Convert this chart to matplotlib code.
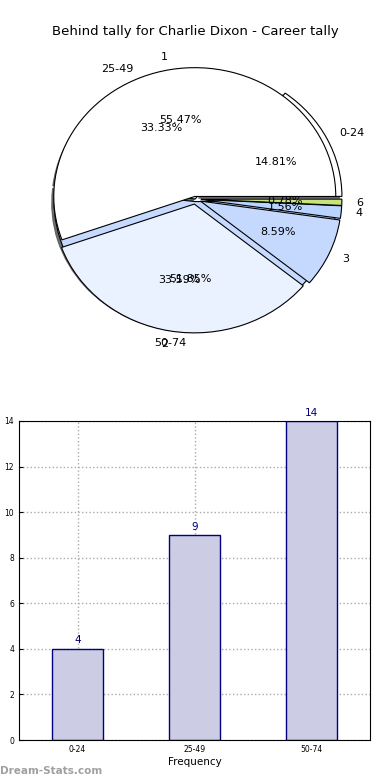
import matplotlib
matplotlib.use('Agg')
import matplotlib.pyplot as plt

# score bands (career tally)
bands = ['0-24', '25-49', '50-74']
band_counts = [4, 9, 14]
band_colors = ['#ffffff', '#dfe9ff', '#c6d9ff']

# behinds per game
behinds = ['1', '2', '3', '4', '6']
behind_counts = [71, 43, 11, 2, 1]
behind_colors = ['#ffffff', '#eaf1ff', '#c5d9ff', '#b9d5ff', '#c8e27c']

fig = plt.figure(figsize=(3.9, 7.8), dpi=100)
fig.text(0.5, 1 - 31 / 780, 'Behind tally for Charlie Dixon - Career tally',
         ha='center', va='center', fontsize=9.5)

# pie axes (slightly squashed like the original)
ax1 = fig.add_axes([19 / 390, (780 - 360) / 780, 352.5 / 390, 322 / 780])
ax1.pie(band_counts, labels=bands, colors=band_colors, autopct='%1.2f%%',
        explode=(0.045, 0, 0.02), startangle=0,
        shadow={'ox': -0.012, 'oy': -0.01, 'facecolor': '#555555',
                'edgecolor': '#555555', 'alpha': 0.85},
        wedgeprops={'edgecolor': 'black', 'linewidth': 0.8},
        textprops={'fontsize': 8})
ax1.pie(behind_counts, labels=behinds, colors=behind_colors, autopct='%1.2f%%',
        explode=(0.02, 0.04, 0.04, 0.04, 0.04), startangle=0,
        wedgeprops={'edgecolor': 'black', 'linewidth': 0.8},
        textprops={'fontsize': 8})
ax1.set_aspect('auto')
ax1.set_xlim(-1.25, 1.25)
ax1.set_ylim(-1.25, 1.25)

# bar chart
ax2 = fig.add_axes([19 / 390, 40 / 780, 351 / 390, 319 / 780])
x = range(len(bands))
bars = ax2.bar(x, band_counts, width=0.44, color='#ccccE4', edgecolor='#000080',
               linewidth=1, zorder=2)
for b, v in zip(bars, band_counts):
    ax2.text(b.get_x() + b.get_width() / 2, v + 0.15, str(v), ha='center',
             va='bottom', color='#000080', fontsize=7.5)
ax2.set_xlim(-0.5, 2.5)
ax2.set_ylim(0, 14)
ax2.set_yticks(range(0, 15, 2))
ax2.set_xticks(list(x))
ax2.set_xticklabels(bands)
ax2.tick_params(labelsize=5.5, length=3, direction='in', top=False, right=False)
ax2.grid(True, linestyle=':', color='#aaaaaa', linewidth=1, zorder=0)
ax2.set_xlabel('Frequency', fontsize=7.5, labelpad=2)
ax2.set_ylabel('Behind Index Rate', fontsize=7.5, labelpad=4)

fig.text(0.0, 1 - 771 / 780, 'Dream-Stats.com', fontsize=7.5, color='#a0a0a0',
         fontweight='bold', va='center', ha='left')

fig.savefig('out.png', dpi=100)
